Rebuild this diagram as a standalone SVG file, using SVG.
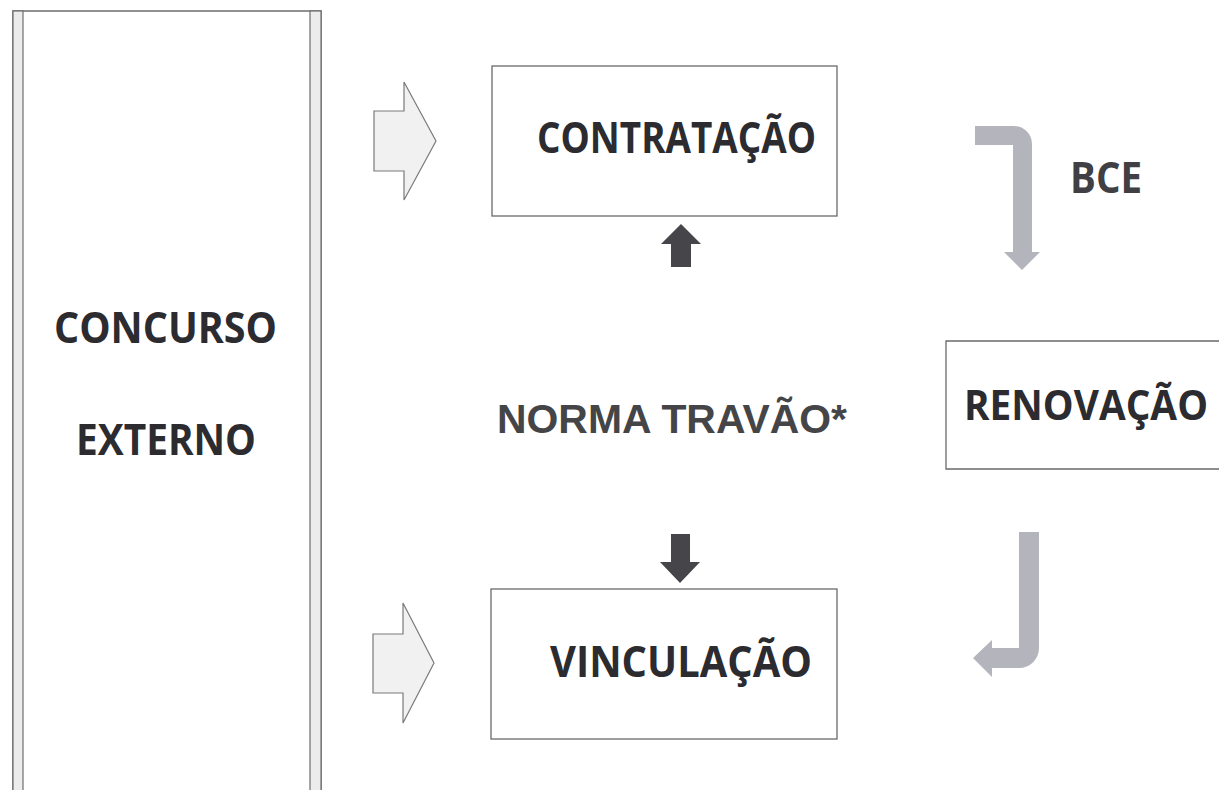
<svg xmlns="http://www.w3.org/2000/svg" width="1219" height="790" viewBox="0 0 1219 790">
<style>
.box{fill:#ffffff;stroke:#6a6a6a;stroke-width:1.3}
.lbl{font-family:"Open Sans","Liberation Sans",sans-serif;font-weight:bold;font-size:43px;fill:#2b2b30}
.mid{font-family:"Liberation Sans",Arial,sans-serif;font-weight:bold;font-size:40.5px;fill:#454548}
.big{fill:#f1f1f1;stroke:#7a7a7a;stroke-width:1.2}
.dark{fill:#46464a}
.grey{fill:#b4b4bc}
</style>
<rect width="1219" height="790" fill="#ffffff"/>
<g id="concurso">
<rect x="13" y="11" width="308" height="800" fill="#ffffff" stroke="#6e6e6e" stroke-width="1.5"/>
<rect x="13" y="11" width="10" height="800" fill="#ececec" stroke="#6e6e6e" stroke-width="1.2"/>
<rect x="310" y="11" width="11" height="800" fill="#ececec" stroke="#6e6e6e" stroke-width="1.2"/>
<text class="lbl" x="54" y="343" textLength="223" lengthAdjust="spacingAndGlyphs">CONCURSO</text>
<text class="lbl" x="76" y="455" textLength="180" lengthAdjust="spacingAndGlyphs">EXTERNO</text>
</g>
<g id="contratacao">
<rect class="box" x="492" y="66" width="345" height="150"/>
<text class="lbl" x="537" y="153" textLength="279" lengthAdjust="spacingAndGlyphs">CONTRATAÇÃO</text>
</g>
<g id="vinculacao">
<rect class="box" x="491" y="589" width="346" height="150"/>
<text class="lbl" x="550" y="677" textLength="262" lengthAdjust="spacingAndGlyphs">VINCULAÇÃO</text>
</g>
<g id="renovacao">
<path d="M1220,341 H946 V469 H1220" fill="#ffffff" stroke="#6a6a6a" stroke-width="1.3"/>
<text class="lbl" transform="translate(964,420) scale(1,1.1)" x="0" y="0" style="font-size:38px" textLength="244" lengthAdjust="spacingAndGlyphs">RENOVAÇÃO</text>
</g>
<g id="norma">
<text class="mid" x="497" y="433" textLength="350" lengthAdjust="spacingAndGlyphs">NORMA TRAVÃO*</text>
</g>
<g id="bce">
<text class="lbl" x="1070" y="193" textLength="72" lengthAdjust="spacingAndGlyphs" style="fill:#3f3f44">BCE</text>
</g>
<g id="connectors">
<polygon class="big" points="374,111 404,111 404,82 436,141 404,200 404,171 374,171"/>
<polygon class="big" points="373,634 403,634 403,603 434,663 403,723 403,693 373,693"/>
<polygon class="dark" points="681,224 701,244 691,244 691,267 671,267 671,244 661,244"/>
<polygon class="dark" points="671,534 690,534 690,562 700,562 680,583 660,562 671,562"/>
<path class="grey" d="M975,126 H1014 A18,18 0 0 1 1032,144 V252 H1040 L1022,270 L1004,252 H1013 V145 H975 Z"/>
<path class="grey" d="M1019,532 H1039 V648 A20,20 0 0 1 1019,668 H992 V677 L973,658 L992,640 V648 H1019 Z"/>
</g>
</svg>
